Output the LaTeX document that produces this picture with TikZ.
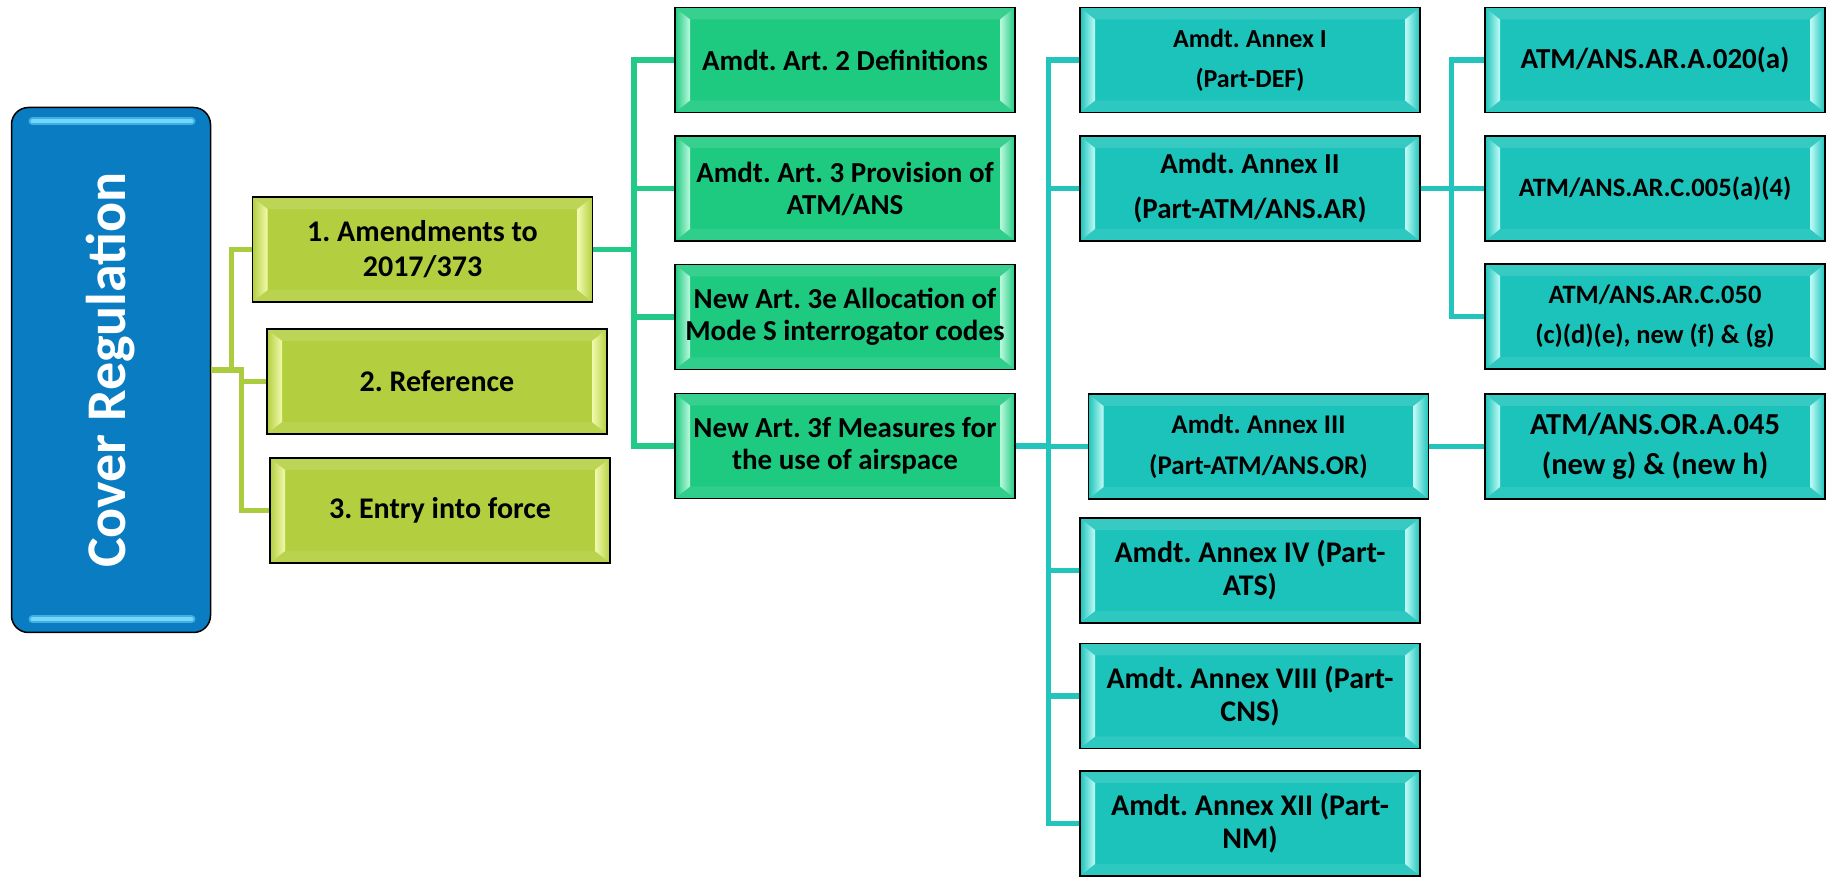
\documentclass[tikz,border=0pt]{standalone}
\usepackage{fontspec}
\setmainfont{Carlito}
\usepackage{graphicx}
\frenchspacing

\definecolor{coverblue}{HTML}{0A7DC2}
\definecolor{coverglow}{HTML}{72D8FA}
\definecolor{limefill}{HTML}{B3CF3F}
\definecolor{limelight}{HTML}{F2FAAE}
\definecolor{limeline}{HTML}{ABCC3F}
\definecolor{mintfill}{HTML}{1DCA80}
\definecolor{mintlight}{HTML}{BDF9DF}
\definecolor{mintline}{HTML}{23C987}
\definecolor{tealfill}{HTML}{1BC3BA}
\definecolor{teallight}{HTML}{C2FCF8}
\definecolor{tealline}{HTML}{23C4BB}

\tikzset{
  box/.style={draw=black, line width=1.3bp, minimum width=340bp, minimum height=105bp,
    inner sep=0pt, align=center},
  bevel/.style 2 args={fill=#1,
    path picture={
      \path (path picture bounding box.south west) coordinate (pp-sw)
            (path picture bounding box.north east) coordinate (pp-ne)
            (pp-sw|-pp-ne) coordinate (pp-nw)
            (pp-ne|-pp-sw) coordinate (pp-se);
      % top and bottom faces
      \fill[#1!88!white] (pp-nw) -- ([shift={(15bp,-12bp)}]pp-nw) -- ([shift={(-15bp,-12bp)}]pp-ne) -- (pp-ne) -- cycle;
      \fill[#1!92!white] (pp-sw) -- ([shift={(15bp,12bp)}]pp-sw) -- ([shift={(-15bp,12bp)}]pp-se) -- (pp-se) -- cycle;
      % side faces
      \shade[left color=#1, right color=#2] (pp-sw) -- ([shift={(15bp,12bp)}]pp-sw) -- ([shift={(15bp,-12bp)}]pp-nw) -- (pp-nw) -- cycle;
      \shade[left color=#2, right color=#1] (pp-se) -- ([shift={(-15bp,12bp)}]pp-se) -- ([shift={(-15bp,-12bp)}]pp-ne) -- (pp-ne) -- cycle;
    }},
  txt/.style 2 args={font=\bfseries\fontsize{#1bp}{#2bp}\selectfont},
  cover/.style={draw=black, line width=1.5bp, rounded corners=17bp, fill=coverblue,
    minimum width=199bp, minimum height=525bp, inner sep=0pt, text=white,
    font=\bfseries\fontsize{56bp}{60bp}\selectfont,
    path picture={
      \path (path picture bounding box.south west) coordinate (cv-sw)
            (path picture bounding box.north east) coordinate (cv-ne)
            (cv-sw|-cv-ne) coordinate (cv-nw)
            (cv-ne|-cv-sw) coordinate (cv-se);
      \draw[coverglow!55!coverblue, line width=8bp, line cap=round]
        ([shift={(21bp,-14bp)}]cv-nw) -- ([shift={(-19bp,-14bp)}]cv-ne)
        ([shift={(21bp,13bp)}]cv-sw) -- ([shift={(-19bp,13bp)}]cv-se);
      \draw[coverglow, line width=4bp, line cap=round]
        ([shift={(21bp,-14bp)}]cv-nw) -- ([shift={(-19bp,-14bp)}]cv-ne)
        ([shift={(21bp,13bp)}]cv-sw) -- ([shift={(-19bp,13bp)}]cv-se);
    }},
  limeedge/.style={limeline, line width=5.5bp},
  mintedge/.style={mintline, line width=5.5bp},
  tealedge/.style={tealline, line width=5.5bp},
}

\begin{document}
\begin{tikzpicture}
  \useasboundingbox (0,0) rectangle (1832bp,883bp);
  %% root
  \node[cover] (cover) at (111bp,513bp) {\rotatebox{90}{Cover Regulation}};
  %% level 1
  \node[box, bevel={limefill}{limelight}, txt={30}{35}] (amend) at (422.5bp,633.5bp) {1. Amendments to\\2017/373};
  \node[box, bevel={limefill}{limelight}, txt={30}{35}] (ref) at (437bp,501.5bp) {2. Reference};
  \node[box, bevel={limefill}{limelight}, txt={30}{35}] (entry) at (440bp,372.5bp) {3. Entry into force};
  %% level 2
  \node[box, bevel={mintfill}{mintlight}, txt={29}{32}] (art2) at (845bp,823bp) {Amdt. Art. 2 Definitions};
  \node[box, bevel={mintfill}{mintlight}, txt={29}{32}] (art3) at (845bp,694.5bp) {Amdt. Art. 3 Provision of\\ATM/ANS};
  \node[box, bevel={mintfill}{mintlight}, txt={29}{32}] (art3e) at (845bp,566bp) {New Art. 3e Allocation of\\Mode S interrogator codes};
  \node[box, bevel={mintfill}{mintlight}, txt={29}{32}] (art3f) at (845bp,437bp) {New Art. 3f Measures for\\the use of airspace};
  %% level 3
  \node[box, bevel={tealfill}{teallight}, txt={26}{40}] (anx1) at (1250bp,823bp) {Amdt. Annex I\\(Part-DEF)};
  \node[box, bevel={tealfill}{teallight}, txt={29}{45}] (anx2) at (1250bp,694.5bp) {Amdt. Annex II\\(Part-ATM/ANS.AR)};
  \node[box, bevel={tealfill}{teallight}, txt={27}{41}] (anx3) at (1258.5bp,436.5bp) {Amdt. Annex III\\(Part-ATM/ANS.OR)};
  \node[box, bevel={tealfill}{teallight}, txt={30}{33}] (anx4) at (1250bp,312.5bp) {Amdt. Annex IV (Part-\\ATS)};
  \node[box, bevel={tealfill}{teallight}, txt={30}{33}] (anx8) at (1250bp,187bp) {Amdt. Annex VIII (Part-\\CNS)};
  \node[box, bevel={tealfill}{teallight}, txt={30}{33}] (anx12) at (1250bp,59.5bp) {Amdt. Annex XII (Part-\\NM)};
  %% level 4
  \node[box, bevel={tealfill}{teallight}, txt={29}{40}] (ar020) at (1655bp,823bp) {ATM/ANS.AR.A.020(a)};
  \node[box, bevel={tealfill}{teallight}, txt={26.5}{40}] (ar005) at (1655bp,694.5bp) {ATM/ANS.AR.C.005(a)(4)};
  \node[box, bevel={tealfill}{teallight}, txt={26.5}{40}] (ar050) at (1655bp,566.5bp) {ATM/ANS.AR.C.050\\(c)(d)(e), new (f) \& (g)};
  \node[box, bevel={tealfill}{teallight}, txt={30.5}{40}] (or045) at (1655bp,436.5bp) {ATM/ANS.OR.A.045\\(new g) \& (new h)};
  %% connectors
  \draw[limeedge] (cover.east) -- ++(20bp,0) |- (amend.west);
  \foreach \n in {ref,entry}
    \draw[limeedge] (cover.east) -- ++(30bp,0) |- (\n.west);
  \foreach \n in {art2,art3,art3e,art3f}
    \draw[mintedge] (amend.east) -- ++(41bp,0) |- (\n.west);
  \foreach \n in {anx1,anx2,anx3,anx4,anx8,anx12}
    \draw[tealedge] (art3f.east) -- ++(33bp,0) |- (\n.west);
  \foreach \n in {ar020,ar005,ar050}
    \draw[tealedge] (anx2.east) -- ++(31bp,0) |- (\n.west);
  \draw[tealedge] (anx3.east) -- (or045.west);
\end{tikzpicture}
\end{document}
